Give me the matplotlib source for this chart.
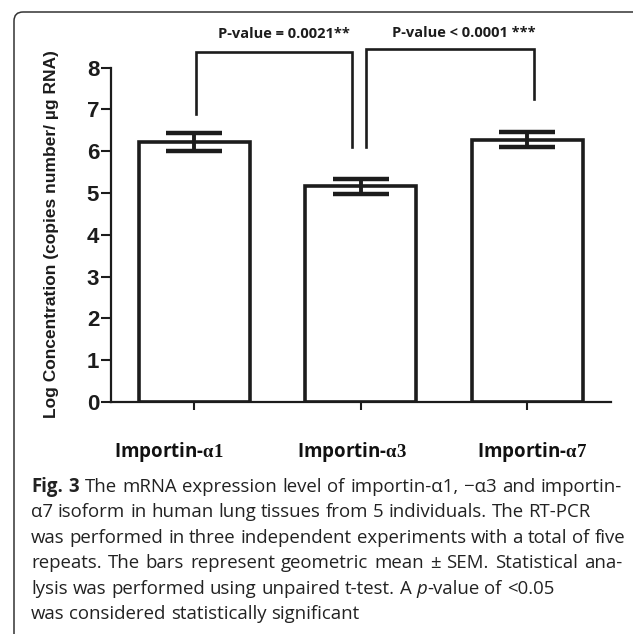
import matplotlib
matplotlib.use('Agg')
import matplotlib.pyplot as plt
from matplotlib.patches import FancyBboxPatch
from matplotlib.transforms import IdentityTransform, blended_transform_factory

# ---------------- data ----------------
categories = ['Importin-α1', 'Importin-α3', 'Importin-α7']
means = [6.23, 5.16, 6.28]
sems = [0.215, 0.18, 0.175]
yticks = [0, 1, 2, 3, 4, 5, 6, 7, 8]
ylabel = 'Log Concentration (copies number/ µg RNA)'
p_texts = ['P-value = 0.0021**', 'P-value < 0.0001 ***']
caption_lines = [
    [('Fig.', 'bold'), ('3', 'bold'), 'The', 'mRNA', 'expression', 'level', 'of',
     'importin-α1,', '−α3', 'and', 'importin-'],
    ['α7', 'isoform', 'in', 'human', 'lung', 'tissues', 'from', '5', 'individuals.',
     'The', 'RT-PCR'],
    ['was', 'performed', 'in', 'three', 'independent', 'experiments', 'with', 'a',
     'total', 'of', 'five'],
    ['repeats.', 'The', 'bars', 'represent', 'geometric', 'mean', '±', 'SEM.',
     'Statistical', 'ana-'],
    ['lysis', 'was', 'performed', 'using', 'unpaired', 't-test.', 'A',
     ('p', 'italic'), '-value', 'of', '<0.05'],
    ['was', 'considered', 'statistically', 'significant'],
]

# ---------------- layout ----------------
W, H, DPI = 633, 634, 100
fig = plt.figure(figsize=(W / DPI, H / DPI), dpi=DPI)
plt.rcParams['mathtext.fontset'] = 'custom'
plt.rcParams['mathtext.rm'] = 'Liberation Serif:bold'
plt.rcParams['mathtext.it'] = 'Liberation Serif:bold'
plt.rcParams['mathtext.bf'] = 'Liberation Serif:bold'

ax_left, ax_right, ax_top, ax_bottom = 111, 610.5, 67.7, 402
ax = fig.add_axes([ax_left / W, 1 - ax_bottom / H,
                   (ax_right - ax_left) / W, (ax_bottom - ax_top) / H])
ink = '#1c1c1c'
x = list(range(len(categories)))
ax.bar(x, means, width=0.665, color='white', edgecolor=ink, linewidth=2.6, zorder=2)
eb = ax.errorbar(x, means, yerr=sems, fmt='none', ecolor=ink, elinewidth=2.8,
                 capsize=20.5, capthick=3.2, zorder=3)
for c in eb[1]:
    c.set_solid_capstyle('round')

ax.set_xlim(-0.5, 2.5)
ax.set_ylim(0, 8)
ax.set_yticks(yticks)
ax.set_yticklabels([str(t) for t in yticks], fontweight='bold',
                   fontsize=16, family=['Liberation Sans', 'DejaVu Sans'])
ax.set_xticks(x)
ax.set_xticklabels([])
ax.tick_params(axis='y', length=7, width=1.5, pad=1.5, color=ink, labelcolor=ink)
ax.tick_params(axis='x', length=6, width=1.5, color=ink)
for s in ['top', 'right']:
    ax.spines[s].set_visible(False)
for s in ['left', 'bottom']:
    ax.spines[s].set_linewidth(1.6)
    ax.spines[s].set_color(ink)

fig.canvas.draw()
renderer = fig.canvas.get_renderer()


def fit(txt, target, horizontal=True):
    bb = txt.get_window_extent(renderer)
    cur = bb.width if horizontal else bb.height
    txt.set_fontsize(txt.get_fontsize() * target / cur)


# y label
yl = fig.text(52 / W, 1 - 234 / H, ylabel, rotation=90, ha='center', va='center',
              fontweight='bold', fontsize=14, color=ink,
              family=['Liberation Sans Narrow', 'Liberation Sans', 'DejaVu Sans'])
fit(yl, 368, horizontal=False)

# significance brackets
brackets = [  # (x_left, x_right, y_top, y_left_leg, y_right_leg)
    (0.01, 0.95, 8.37, 6.89, 6.11),
    (1.03, 2.04, 8.44, 6.10, 7.24),
]
for (xl, xr, yt, yleft, yright) in brackets:
    ax.plot([xl, xl, xr, xr], [yleft, yt, yt, yright], color=ink, lw=1.9,
            clip_on=False, solid_joinstyle='miter', zorder=4)
p_pos = [(0.54, 8.81), (1.62, 8.84)]
for (px, py), t in zip(p_pos, p_texts):
    ax.text(px, py, t, ha='center', va='center', fontsize=10.5, fontweight='bold',
            color=ink, family=['Open Sans', 'DejaVu Sans'], clip_on=False)

# category labels (placed as in the original figure)
lab_x = [-0.152, 0.947, 2.03]
trans = blended_transform_factory(ax.transData, fig.transFigure)
for lx, cat in zip(lab_x, categories):
    head, tail = cat.split('α')
    ax.text(lx, 1 - 457 / H, head + r'$\mathrm{α' + tail + '}$', transform=trans,
            ha='center', va='baseline', fontsize=13.5, fontweight='bold', color='#111111',
            family=['Open Sans', 'DejaVu Sans'])

# frame
fig.patches.append(FancyBboxPatch((14, -40), W + 40, (H - 12) + 40,
                                  boxstyle='round,pad=0,rounding_size=9',
                                  transform=IdentityTransform(), fill=False,
                                  edgecolor='#333333', linewidth=1.1))

# caption, justified word by word
cap_font = ['Open Sans', 'DejaVu Sans']
cap_left = 31
cap_right = [622, None, 625, 622, None, None]
baselines = [492, 517.4, 542.8, 568.2, 593.6, 619]

probe = fig.text(0, 0, ' '.join(caption_lines[2]), fontsize=12, family=cap_font)
cap_size = 12 * (625 - cap_left) / probe.get_window_extent(renderer).width * 0.995
probe.remove()


def make_word(tok, xp, yp):
    if isinstance(tok, tuple):
        word, style = tok
    else:
        word, style = tok, 'normal'
    kw = dict(fontsize=cap_size, family=cap_font, color='#222222',
              transform=IdentityTransform(), va='baseline', ha='left')
    if style == 'bold':
        kw['fontweight'] = 'bold'
    if style == 'italic':
        kw['fontstyle'] = 'italic'
    return fig.text(xp, yp, word, **kw)


sp = fig.text(0, 0, 'n n', fontsize=cap_size, family=cap_font)
sp2 = fig.text(0, 0, 'nn', fontsize=cap_size, family=cap_font)
space_w = (sp.get_window_extent(renderer).width - sp2.get_window_extent(renderer).width)
sp.remove(); sp2.remove()

for line, right, base in zip(caption_lines, cap_right, baselines):
    yp = H - base
    words = [make_word(t, 0, yp) for t in line]
    widths = [w.get_window_extent(renderer).width for w in words]
    joins = [not (isinstance(line[i], tuple) and line[i][1] == 'italic')
             for i in range(len(line) - 1)]
    ngaps = sum(joins)
    if right is None:
        gap = space_w
    else:
        gap = (right - cap_left - sum(widths)) / max(ngaps, 1)
        gap = max(gap, 0.6 * space_w)
    xp = cap_left
    for i, (w, wd) in enumerate(zip(words, widths)):
        w.set_x(xp)
        xp += wd
        if i < len(joins):
            xp += gap if joins[i] else 0

fig.savefig('out.png', dpi=DPI, facecolor='white')
